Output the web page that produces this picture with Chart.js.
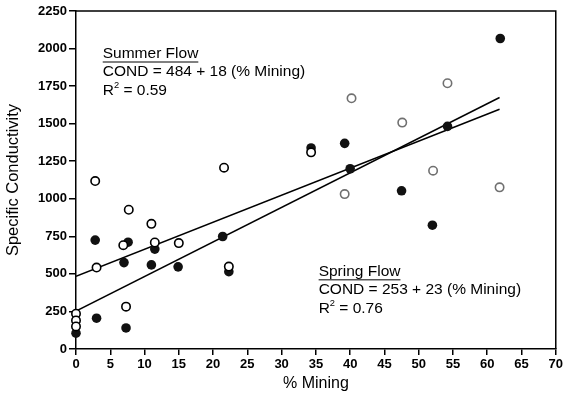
<!DOCTYPE html>
<html>
<head>
<meta charset="utf-8">
<script src="https://cdn.jsdelivr.net/npm/chart.js@4.4.1/dist/chart.umd.min.js"></script>
<style>
  html, body { margin: 0; padding: 0; background: #fff; }
  #wrap { width: 565px; height: 406px; position: relative; }
</style>
</head>
<body>
<div id="wrap"><canvas id="chart"></canvas></div>
<script>
// spring flow (filled circles)
const springX = [0, 2.8, 3, 7, 7.3, 7.6, 11, 11.5, 14.9, 21.4, 22.3, 34.3, 39.2, 40, 47.5, 52, 54.2, 61.9];
const springY = [105, 725, 205, 575, 140, 711, 560, 665, 547, 749, 515, 1338, 1369, 1200, 1053, 824, 1482, 2067];

// summer flow (open circles)
const summerX = [0, 0, 0, 2.8, 3, 6.9, 7.3, 7.7, 11, 11.5, 15, 21.6, 22.3, 34.3, 39.2, 40.2, 47.6, 52.1, 54.2, 61.8];
const summerY = [235, 190, 150, 1118, 542, 691, 282, 927, 833, 709, 705, 1207, 549, 1309, 1031, 1669, 1507, 1187, 1769, 1076];

// fitted lines, end points
const fitX = [0, 61.8];
const springFitY = [253, 1674];
const summerFitY = [484, 1596];

const xTicks = [0, 5, 10, 15, 20, 25, 30, 35, 40, 45, 50, 55, 60, 65, 70];
const yTicks = [0, 250, 500, 750, 1000, 1250, 1500, 1750, 2000, 2250];

const summerNote = ['Summer Flow', 'COND = 484 + 18 (% Mining)', '0.59'];
const springNote = ['Spring Flow', 'COND = 253 + 23 (% Mining)', '0.76'];

const toPoints = (xs, ys) => xs.map((x, i) => ({ x: x, y: ys[i] }));

const FONT = 'Arial, "Liberation Sans", sans-serif';

function drawNote(ctx, lines, left, top) {
  const size = 15.5;
  const gap = 18.7;
  ctx.save();
  ctx.fillStyle = '#000';
  ctx.strokeStyle = '#000';
  ctx.textBaseline = 'middle';
  ctx.textAlign = 'left';
  ctx.font = `${size}px ${FONT}`;
  // title, underlined
  ctx.fillText(lines[0], left, top);
  const w = ctx.measureText(lines[0]).width;
  ctx.lineWidth = 1;
  ctx.beginPath();
  ctx.moveTo(left, top + 8.5);
  ctx.lineTo(left + w, top + 8.5);
  ctx.stroke();
  // equation
  ctx.fillText(lines[1], left, top + gap);
  // R squared
  const y3 = top + gap * 2;
  ctx.fillText('R', left, y3);
  let x = left + ctx.measureText('R').width;
  ctx.font = `${size * 0.6}px ${FONT}`;
  ctx.fillText('2', x, y3 - 5);
  x += ctx.measureText('2').width;
  ctx.font = `${size}px ${FONT}`;
  ctx.fillText(' = ' + lines[2], x, y3);
  ctx.restore();
}

const notesPlugin = {
  id: 'notes',
  afterDatasetsDraw(chart) {
    const { ctx, chartArea, scales } = chart;
    // top and right frame
    ctx.save();
    ctx.strokeStyle = '#000';
    ctx.lineWidth = 1.5;
    ctx.beginPath();
    ctx.moveTo(chartArea.left, chartArea.top);
    ctx.lineTo(chartArea.right, chartArea.top);
    ctx.lineTo(chartArea.right, chartArea.bottom);
    ctx.stroke();
    ctx.restore();

    drawNote(ctx, summerNote, scales.x.getPixelForValue(3.9), scales.y.getPixelForValue(1967));
    drawNote(ctx, springNote, scales.x.getPixelForValue(35.4), scales.y.getPixelForValue(517));
  }
};

const openColor = (c) => (c.raw && c.raw.x > 36 ? '#707070' : '#000');

new Chart(document.getElementById('chart'), {
  type: 'scatter',
  data: {
    datasets: [
      {
        label: 'Summer Flow',
        data: toPoints(summerX, summerY),
        clip: false,
        pointRadius: 4.2,
        pointBorderWidth: 1.6,
        pointBackgroundColor: '#fff',
        pointBorderColor: openColor
      },
      {
        label: 'Spring Flow',
        data: toPoints(springX, springY),
        clip: false,
        pointRadius: 4.8,
        pointBorderWidth: 0,
        pointBackgroundColor: '#111',
        pointBorderColor: '#111'
      },
      {
        label: 'Summer fit',
        data: toPoints(fitX, summerFitY),
        showLine: true,
        borderColor: '#000',
        borderWidth: 1.5,
        pointRadius: 0
      },
      {
        label: 'Spring fit',
        data: toPoints(fitX, springFitY),
        showLine: true,
        borderColor: '#000',
        borderWidth: 1.5,
        pointRadius: 0
      }
    ]
  },
  options: {
    responsive: true,
    maintainAspectRatio: false,
    animation: false,
    layout: { padding: { top: 11, right: 8, bottom: 0, left: 0 } },
    plugins: {
      legend: { display: false },
      tooltip: { enabled: false }
    },
    scales: {
      x: {
        type: 'linear',
        min: 0,
        max: 70,
        afterBuildTicks: (s) => { s.ticks = xTicks.map(v => ({ value: v })); },
        afterFit: (s) => { s.height = 57; },
        grid: { drawOnChartArea: false, drawTicks: true, tickLength: 6, color: '#000', lineWidth: 1.5 },
        border: { display: true, color: '#000', width: 1.5 },
        ticks: { color: '#000', font: { family: FONT, size: 13, weight: 'bold' }, padding: 2, maxRotation: 0, callback: (v) => String(v) },
        title: { display: true, text: '% Mining', color: '#000', font: { family: FONT, size: 16 }, padding: { top: 0, bottom: 13 } }
      },
      y: {
        type: 'linear',
        min: 0,
        max: 2250,
        afterBuildTicks: (s) => { s.ticks = yTicks.map(v => ({ value: v })); },
        afterFit: (s) => { s.width = 76; },
        grid: { drawOnChartArea: false, drawTicks: true, tickLength: 7, color: '#000', lineWidth: 1.5 },
        border: { display: true, color: '#000', width: 1.5 },
        ticks: { color: '#000', font: { family: FONT, size: 13, weight: 'bold' }, padding: 2, callback: (v) => String(v) },
        title: { display: true, text: 'Specific Conductivity', color: '#000', font: { family: FONT, size: 16.5 }, padding: { top: 4, bottom: 0 } }
      }
    }
  },
  plugins: [notesPlugin]
});
</script>
</body>
</html>
